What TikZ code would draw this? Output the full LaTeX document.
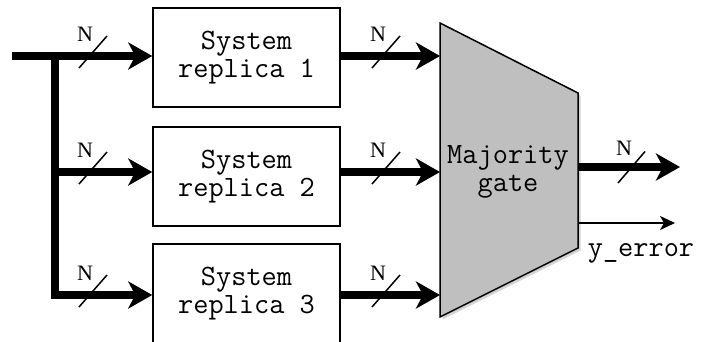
\documentclass[tikz,border=0pt]{standalone}
\usepackage{fontspec}
\setmainfont{Liberation Serif}
\usetikzlibrary{arrows.meta,shadows}
\definecolor{gategray}{RGB}{191,191,191}
\begin{document}
\begin{tikzpicture}[x=1pt,y=-1pt,
  box/.style={draw, line width=1.5pt, minimum width=187pt, minimum height=99pt, inner sep=0pt, align=center, font=\fontsize{29.5}{28.5}\selectfont\ttfamily},
  bus/.style={line width=8pt, -{Stealth[length=24pt,width=27pt,inset=7pt]}},
  buscorner/.style={line width=8pt, miter limit=10},
  thinarrow/.style={line width=1.5pt, -{Stealth[length=15pt,width=14pt,inset=4pt]}},
  slash/.style={line width=1.5pt},
  nlabel/.style={font=\fontsize{22}{22}\selectfont, inner sep=0pt},
  gatestyle/.style={draw, line width=1.5pt, fill=gategray, line join=miter,
     drop shadow={shadow xshift=2.5pt, shadow yshift=-2.5pt, opacity=0.35}},
  monotext/.style={font=\fontsize{29.5}{28.5}\selectfont\ttfamily, align=center, inner sep=0pt}
]
\useasboundingbox (0,0) rectangle (703,341);
\clip (0,0) rectangle (703,341);

% replica boxes
\node[box] (b1) at (246.5,57.5) {System\\replica 1};
\node[box] (b2) at (246.5,176.5) {System\\replica 2};
\node[box] (b3) at (246.5,293.5) {System\\replica 3};

% gate
\coordinate (g1) at (440,23);
\coordinate (g2) at (578,93);
\coordinate (g3) at (578,248);
\coordinate (g4) at (440,317);
\draw[gatestyle] (g1) -- (g2) -- (g3) -- (g4) -- cycle;
\node[monotext] (gt) at (508,172) {Majority\\gate};

% input bus
\coordinate (start) at (12,56);
\coordinate (j1) at (55,56);
\coordinate (j2) at (55,172);
\coordinate (j3) at (55,295);
\draw[bus] (start) -- (b1.west |- start);
\draw[buscorner] (j1) -- (j3) -- ++(20,0);
\draw[bus] (j3) -- (b3.west |- j3);
\draw[bus] (j2) -- (b2.west |- j2);

% box -> gate
\coordinate (o1) at (340,56);
\coordinate (o2) at (340,172);
\coordinate (o3) at (340,295);
\draw[bus] (b1.east |- o1) -- (g1 |- o1);
\draw[bus] (b2.east |- o2) -- (g1 |- o2);
\draw[bus] (b3.east |- o3) -- (g1 |- o3);

% gate outputs
\coordinate (q) at (578,167);
\coordinate (qend) at (680,167);
\coordinate (e) at (578,223);
\coordinate (eend) at (675,223);
\draw[bus] (q) -- (qend);
\draw[thinarrow] (e) -- (eend);
\node[monotext, anchor=base] (yerr) at (641,256) {y\_error};

% slash marks and N labels
\foreach \y/\n in {56/a,172/b,295/c}{
  \coordinate (sa\n) at (93,\y);
  \draw[slash] ([shift={(-14,12)}]sa\n) -- ([shift={(14,-20)}]sa\n);
  \node[nlabel] (na\n) at ([shift={(-8,-22)}]sa\n) {N};
  \coordinate (sb\n) at (386,\y);
  \draw[slash] ([shift={(-14,12)}]sb\n) -- ([shift={(14,-20)}]sb\n);
  \node[nlabel] (nb\n) at ([shift={(-8,-22)}]sb\n) {N};
}
\coordinate (sq) at (631.5,167);
\draw[slash] ([shift={(-13.5,16)}]sq) -- ([shift={(13.5,-15.5)}]sq);
\node[nlabel] (nq) at ([shift={(-7.5,-18.5)}]sq) {N};
\end{tikzpicture}
\end{document}
